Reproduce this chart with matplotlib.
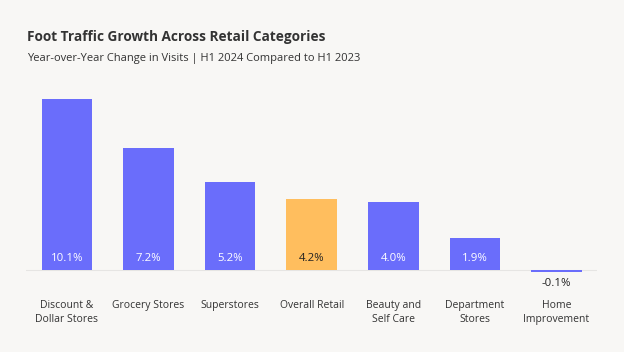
import matplotlib

matplotlib.use("Agg")
import matplotlib.pyplot as plt

plt.rcParams["font.family"] = ["Open Sans", "DejaVu Sans"]

categories = [
    "Discount &\nDollar Stores",
    "Grocery Stores",
    "Superstores",
    "Overall Retail",
    "Beauty and\nSelf Care",
    "Department\nStores",
    "Home\nImprovement",
]
values = [10.1, 7.2, 5.2, 4.2, 4.0, 1.9, -0.1]
highlight = "Overall Retail"

BG = "#f8f7f5"
BLUE = "#6a6dfb"
ORANGE = "#ffbe5e"

fig = plt.figure(figsize=(6.24, 3.52), dpi=100, facecolor=BG)
ax = fig.add_axes([0.042, 0.216, 0.915, 0.508])
ax.set_facecolor(BG)

x = list(range(len(values)))
colors = [ORANGE if c == highlight else BLUE for c in categories]
ax.bar(x, values, width=0.62, color=colors)
ax.axhline(0, color="#e6e5e3", lw=0.8, zorder=0)

for xi, v, c in zip(x, values, categories):
    if v >= 0:
        col = "#222222" if c == highlight else "white"
        ax.text(xi, 0.7, f"{v:.1f}%", ha="center", va="center", fontsize=8.2, color=col)
    else:
        ax.text(xi, -0.45, f"{v:.1f}%", ha="center", va="top", fontsize=8.2, color="#222222")

ax.set_xlim(-0.5, len(values) - 0.5)
ax.set_ylim(-0.35, 10.2)
ax.set_xticks(x)
ax.set_xticklabels(categories, fontsize=7.5, color="#333333", linespacing=1.4)
ax.tick_params(axis="x", length=0, pad=17.5)
ax.set_yticks([])
for s in ax.spines.values():
    s.set_visible(False)

fig.text(0.043, 0.895, "Foot Traffic Growth Across Retail Categories",
         fontsize=9.8, fontweight="bold", color="#333333", va="center")
fig.text(0.043, 0.834, "Year-over-Year Change in Visits | H1 2024 Compared to H1 2023",
         fontsize=8, color="#333333", va="center")

fig.savefig("out.png", dpi=100, facecolor=BG)
